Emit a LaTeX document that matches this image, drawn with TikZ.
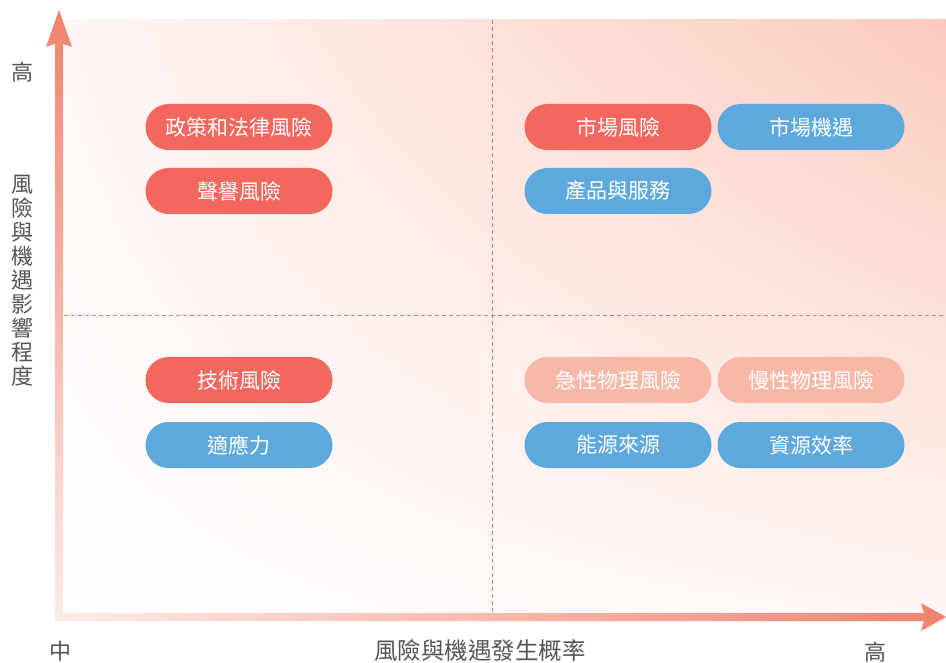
\documentclass[tikz,border=0pt]{standalone}
\usepackage{fontspec}
\setmainfont{Noto Sans CJK TC}
\usetikzlibrary{shapes,positioning,calc,shadings}
\definecolor{riskred}{HTML}{F2675E}
\definecolor{oppblue}{HTML}{5DA9DD}
\definecolor{physpink}{HTML}{F8B8A8}
\definecolor{labelgray}{HTML}{555555}
\definecolor{gridred}{HTML}{F27563}
\definecolor{bgpink}{HTML}{FBCABD}
\definecolor{axisdark}{HTML}{F2826F}
\definecolor{axislight}{HTML}{FDECE8}

\begin{document}
\begin{tikzpicture}[x=1pt, y=-1pt,
    pill/.style={rounded corners=23pt, minimum width=187pt, minimum height=46pt, inner sep=0pt, text=white, font=\fontsize{21}{23}\selectfont},
    risk/.style={pill, fill=riskred},
    opp/.style={pill, fill=oppblue},
    phys/.style={pill, fill=physpink},
    axislabel/.style={text=labelgray, font=\fontsize{22}{24}\selectfont, inner sep=0pt},
    gridline/.style={gridred, line width=1pt, dash pattern=on 4pt off 3pt}]
    \useasboundingbox (0,0) rectangle (946,663);
    % background
    \shade[lower left=white, upper left=bgpink!15, upper right=bgpink, lower right=bgpink!15] (55,20) rectangle (946,620);
    % quadrant lines
    \coordinate (vtop) at (492,20);
    \coordinate (vbot) at (492,613);
    \coordinate (hleft) at (64,316);
    \coordinate (hright) at (946,316);
    \draw[gridline] (vtop) -- (vbot);
    \draw[gridline] (hleft) -- (hright);
    % axes
    \shade[bottom color=axislight, top color=axisdark] (55,621) -- (55,44) -- (46,47) -- (59,10) -- (72,47) -- (63,44) -- (63,621) -- cycle;
    \shade[left color=axislight, right color=axisdark] (55,613) -- (924,613) -- (921,603) -- (946,617) -- (921,631) -- (924,621) -- (55,621) -- cycle;
    % axis labels
    \node[axislabel] (yhigh) at (22,72) {高};
    \node[axislabel, align=center] (ytitle) at (22,281) {風\\險\\與\\機\\遇\\影\\響\\程\\度};
    \node[axislabel] (xmid) at (60,651) {中};
    \node[axislabel, font=\fontsize{23.5}{24}\selectfont] (xtitle) at (480,651) {風險與機遇發生概率};
    \node[axislabel] (xhigh) at (875,652) {高};
    % upper left
    \node[risk] (policy) at (239,127) {政策和法律風險};
    \node[risk] (reput) at (239,191) {聲譽風險};
    % upper right
    \node[risk] (mktrisk) at (618,127) {市場風險};
    \node[opp] (mktopp) at (811,127) {市場機遇};
    \node[opp] (product) at (618,191) {產品與服務};
    % lower left
    \node[risk] (tech) at (239,380) {技術風險};
    \node[opp] (resil) at (239,445) {適應力};
    % lower right
    \node[phys] (acute) at (618,380) {急性物理風險};
    \node[phys] (chronic) at (811,380) {慢性物理風險};
    \node[opp] (energy) at (618,445) {能源來源};
    \node[opp] (resource) at (811,445) {資源效率};
\end{tikzpicture}
\end{document}
